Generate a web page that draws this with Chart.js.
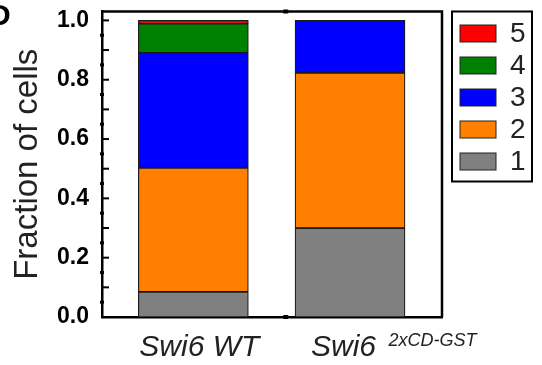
<!DOCTYPE html>
<html>
<head>
<meta charset="utf-8">
<script src="https://cdn.jsdelivr.net/npm/chart.js@4.4.1/dist/chart.umd.min.js"></script>
<style>
  html, body { margin: 0; padding: 0; background: #fff; }
  #wrap { width: 542px; height: 365px; }
</style>
</head>
<body>
<div id="wrap"><canvas id="chart" width="542" height="365"></canvas></div>
<script>
// groups on the x axis (second one carries a superscript)
const groups = ['Swi6 WT', 'Swi6'];
const groupSup = ['', '2xCD-GST'];
// fraction of cells per class, one value per group
const classLabels = ['1', '2', '3', '4', '5'];
const class1 = [0.085, 0.300];
const class2 = [0.418, 0.523];
const class3 = [0.388, 0.177];
const class4 = [0.098, 0];
const class5 = [0.011, 0];
const yTicks = [0, 0.2, 0.4, 0.6, 0.8, 1.0];

const colors = ['#808080', '#ff8000', '#0000ff', '#008000', '#ff0000'];
const FONT = "'Liberation Sans', Arial, sans-serif";

const series = [class1, class2, class3, class4, class5];

const datasets = series.map((vals, k) => ({
    label: classLabels[k],
    data: vals.map((v, i) => ({ x: i, y: v })),
    backgroundColor: colors[k],
    borderColor: '#1a1a1a',
    borderWidth: 1.2,
    borderSkipped: false,
    barThickness: 110
}));

// frame, inward ticks, x labels and boxed legend
const decor = {
    id: 'decor',
    afterDraw(chart) {
        const ctx = chart.ctx;
        const a = chart.chartArea;
        const xs = chart.scales.x;
        const ys = chart.scales.y;
        ctx.save();

        ctx.strokeStyle = '#000';
        ctx.fillStyle = '#000';
        ctx.lineWidth = 2.5;
        ctx.beginPath();
        ctx.moveTo(a.left, a.top);
        ctx.lineTo(a.right, a.top);
        ctx.lineTo(a.right, a.bottom);
        ctx.stroke();

        // y ticks: inward every 0.1, small marks in between
        for (let k = 0; k <= 20; k++) {
            const y = ys.getPixelForValue(k * 0.05);
            if (k % 2 === 0) {
                ctx.fillRect(a.left, y - 1, 7, 2);
            } else {
                ctx.fillRect(a.left - 2, y - 1.5, 4, 3);
            }
        }

        // small marks between the groups on top and bottom
        const xm = xs.getPixelForValue(0.59);
        ctx.fillRect(xm - 2.5, a.top - 2, 5, 4);
        ctx.fillRect(xm - 2.5, a.bottom - 2, 5, 4);

        // x labels
        ctx.fillStyle = '#222';
        ctx.textBaseline = 'alphabetic';
        const base = a.bottom + 39;
        ctx.font = `italic 30px ${FONT}`;
        ctx.textAlign = 'center';
        ctx.fillText(groups[0], xs.getPixelForValue(0) + 6, base);
        ctx.textAlign = 'left';
        const x2 = xs.getPixelForValue(1) - 39;
        ctx.fillText(groups[1], x2, base);
        const w = ctx.measureText(groups[1] + ' ').width;
        ctx.font = `italic 18px ${FONT}`;
        ctx.fillText(groupSup[1], x2 + w + 4, base - 10);

        // legend (reversed, 5 on top)
        const lx = a.right + 10;
        const ly = a.top;
        ctx.strokeStyle = '#000';
        ctx.lineWidth = 2;
        ctx.strokeRect(lx, ly, 80, 170);
        const ds = chart.data.datasets.slice().reverse();
        ds.forEach((d, i) => {
            const cy = ly + 22 + i * 32;
            ctx.fillStyle = d.backgroundColor;
            ctx.fillRect(lx + 8, cy - 8.5, 36, 17);
            ctx.lineWidth = 1;
            ctx.strokeStyle = '#222';
            ctx.strokeRect(lx + 8, cy - 8.5, 36, 17);
            ctx.fillStyle = '#222';
            ctx.font = `28px ${FONT}`;
            ctx.textAlign = 'left';
            ctx.textBaseline = 'middle';
            ctx.fillText(d.label, lx + 58, cy + 1);
        });

        // panel letter, cut off at the left edge
        ctx.fillStyle = '#000';
        ctx.font = `bold 30px ${FONT}`;
        ctx.textAlign = 'left';
        ctx.textBaseline = 'alphabetic';
        ctx.fillText('D', -11, 25);

        ctx.restore();
    }
};

new Chart(document.getElementById('chart'), {
    type: 'bar',
    data: { datasets: datasets },
    options: {
        responsive: false,
        animation: false,
        devicePixelRatio: 1,
        layout: { padding: { top: 0, right: 100, left: 0, bottom: 0 } },
        plugins: {
            legend: { display: false },
            tooltip: { enabled: false }
        },
        scales: {
            x: {
                type: 'linear',
                stacked: true,
                min: -0.583,
                max: 1.587,
                offset: false,
                border: { display: true, color: '#000', width: 2.5 },
                grid: { display: false, drawTicks: false },
                ticks: { display: false },
                afterFit: s => { s.height = 48; s.paddingLeft = 0; s.paddingRight = 0; }
            },
            y: {
                stacked: true,
                min: 0,
                max: 1.03,
                border: { display: true, color: '#000', width: 2.5 },
                grid: { display: false, drawTicks: false },
                ticks: {
                    font: { family: FONT, size: 23, weight: 'bold', lineHeight: 1 },
                    color: '#000',
                    padding: 13,
                    callback: v => v.toFixed(1)
                },
                afterBuildTicks: s => { s.ticks = yTicks.map(v => ({ value: v })); },
                afterFit: s => { s.width = 102; s.paddingTop = 11.5; s.paddingBottom = 0; },
                title: {
                    display: true,
                    text: 'Fraction of cells',
                    font: { family: FONT, size: 33, lineHeight: 1 },
                    color: '#222',
                    padding: { top: 11, bottom: 0 }
                }
            }
        }
    },
    plugins: [decor]
});
</script>
</body>
</html>
